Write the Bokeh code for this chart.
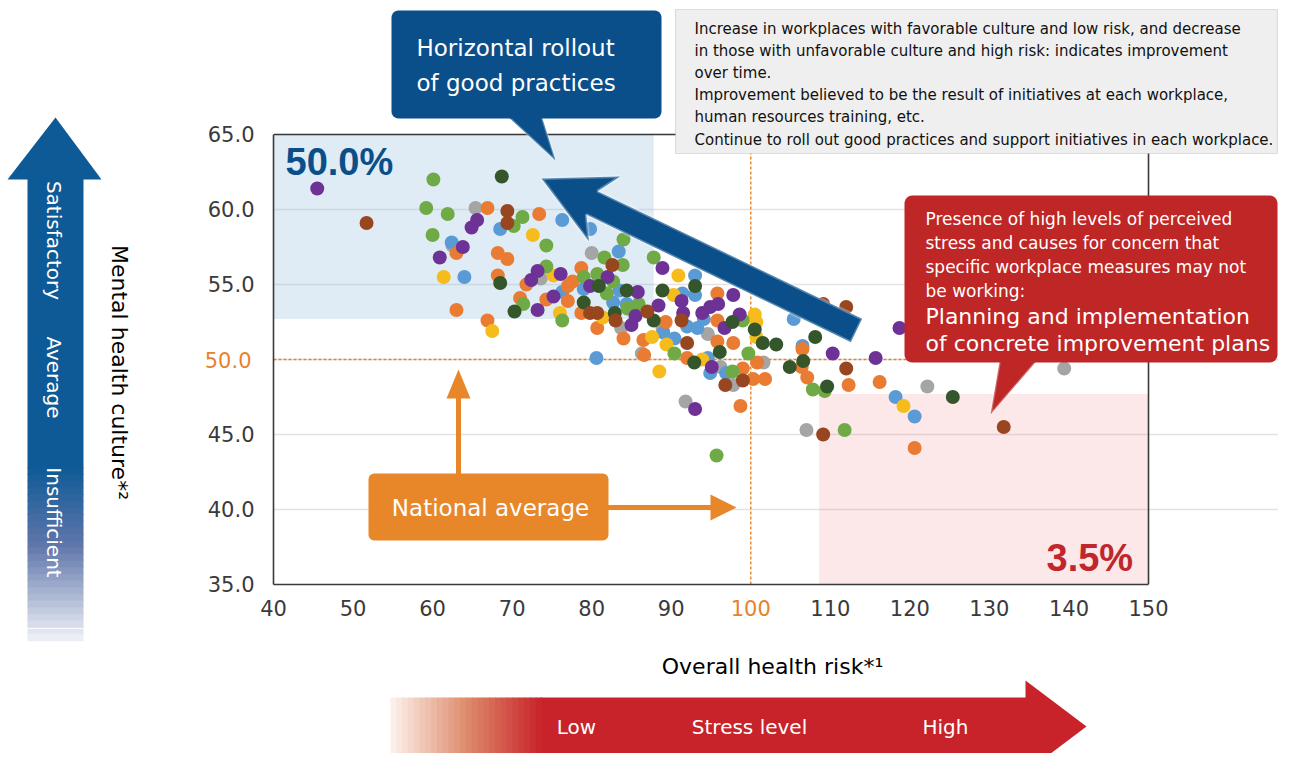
import math
from bokeh.plotting import figure
from bokeh.layouts import row, column
from bokeh.models import PolyAnnotation, Label, FixedTicker, PrintfTickFormatter, Range1d, LinearAxis
from bokeh.embed import file_html
from bokeh.resources import INLINE

FONT = "DejaVu Sans"
FONT_PCT = "Liberation Sans"

# ---------------- data ----------------
X_TICKS = [40, 50, 60, 70, 80, 90, 100, 110, 120, 130, 140, 150]
Y_TICKS = [35, 40, 45, 50, 55, 60, 65]
NATIONAL_AVG_X = 100
NATIONAL_AVG_Y = 50
GOOD_ZONE = dict(left=40, right=87.8, bottom=52.7, top=65)
BAD_ZONE = dict(left=108.6, right=150, bottom=35, top=47.7)
GOOD_SHARE = "50.0%"
BAD_SHARE = "3.5%"

gray_x = [65.4, 62.5, 80.0, 73.6, 83.7, 86.3, 88.9, 94.6, 96.2, 97.8, 91.8, 101.6, 107.0, 122.2, 139.4]
gray_y = [60.1, 57.6, 57.1, 55.4, 52.1, 50.4, 52.1, 51.7, 49.5, 48.3, 47.2, 49.8, 45.3, 48.2, 49.4]

blue_x = [62.4, 64.0, 68.5, 76.3, 79.8, 83.4, 93.0, 93.0, 91.4, 80.6, 76.3, 79.0, 82.7, 83.5, 92.0, 93.3,
          94.1, 90.4, 94.9, 96.9, 89.0, 94.6, 105.4, 106.5, 118.2, 120.6, 84.4]
blue_y = [57.8, 55.5, 58.7, 59.3, 58.7, 57.2, 55.6, 54.3, 54.4, 50.1, 54.5, 54.7, 53.8, 54.6, 52.2, 52.1,
          52.7, 51.4, 49.1, 49.1, 51.8, 50.1, 52.7, 50.9, 47.5, 46.2, 53.7]

orange_x = [66.9, 73.4, 68.2, 69.4, 68.2, 63.0, 63.0, 66.9, 78.7, 77.6, 77.0, 71.8, 71.0, 74.3, 77.0, 78.7,
            80.7, 84.0, 86.5, 86.6, 89.3, 92.0, 95.8, 95.8, 95.8, 97.8, 99.0, 100.3, 101.8, 98.7, 106.5,
            106.4, 107.1, 112.3, 116.2, 120.6, 100.8]
orange_y = [60.1, 59.7, 57.1, 56.7, 55.6, 57.1, 53.3, 52.6, 56.1, 55.2, 54.9, 55.0, 54.1, 54.0, 53.9, 53.1,
            52.1, 51.4, 51.3, 50.3, 52.5, 50.1, 54.4, 52.6, 51.2, 51.1, 49.4, 48.7, 48.7, 46.9, 50.7,
            49.5, 48.8, 48.3, 48.5, 44.1, 49.8]

yellow_x = [72.6, 61.4, 75.2, 76.0, 67.5, 81.4, 87.6, 89.4, 90.3, 90.9, 93.9, 88.5, 100.5, 100.7, 100.7, 119.2]
yellow_y = [58.3, 55.5, 55.6, 53.1, 51.9, 52.8, 51.5, 51.0, 54.3, 55.6, 50.0, 49.2, 53.0, 52.5, 51.5, 46.9]

green_x = [60.1, 59.2, 61.9, 60.0, 71.3, 70.2, 74.3, 74.3, 81.6, 83.9, 84.0, 87.8, 79.0, 80.7, 81.9, 82.7,
           76.3, 71.4, 85.9, 84.5, 90.4, 99.0, 99.7, 97.7, 107.8, 109.3, 111.8, 95.7]
green_y = [62.0, 60.1, 59.7, 58.3, 59.5, 58.9, 57.6, 56.2, 56.8, 56.3, 58.0, 56.8, 55.5, 55.7, 54.4, 55.2,
           52.6, 53.7, 53.7, 53.4, 50.4, 52.6, 50.4, 49.2, 48.0, 47.9, 45.3, 43.6]

purple_x = [45.5, 60.9, 63.8, 64.9, 65.6, 73.2, 72.4, 76.1, 75.2, 73.2, 79.8, 82.0, 85.8, 88.9, 88.4, 91.3,
            91.5, 93.9, 94.9, 95.9, 85.5, 85.0, 97.8, 98.6, 96.7, 95.1, 93.0, 110.3, 115.7, 118.7]
purple_y = [61.4, 56.8, 57.5, 58.8, 59.3, 55.9, 55.3, 55.7, 54.2, 53.3, 54.9, 55.5, 54.5, 56.1, 53.6, 53.9,
            53.1, 53.1, 53.5, 53.7, 52.9, 52.3, 54.3, 53.0, 52.1, 49.5, 46.7, 50.4, 50.1, 52.1]

dkgreen_x = [68.7, 68.5, 70.3, 79.0, 80.9, 84.4, 82.9, 87.8, 88.9, 93.0, 92.9, 96.1, 97.7, 100.5, 101.5,
             103.2, 108.1, 104.9, 106.6, 109.6, 125.4]
dkgreen_y = [62.2, 55.1, 53.2, 53.8, 54.9, 54.6, 53.1, 52.6, 54.6, 54.9, 49.8, 50.5, 52.5, 52.0, 51.1,
             51.0, 51.5, 49.5, 49.9, 48.2, 47.5]

brown_x = [51.7, 69.4, 69.4, 82.6, 79.8, 80.7, 83.0, 87.0, 91.3, 92.0, 96.8, 99.0, 109.1, 112.0, 112.0,
           109.1, 131.8]
brown_y = [59.1, 59.9, 59.1, 56.3, 53.1, 53.1, 52.6, 53.2, 52.6, 51.1, 48.3, 48.6, 53.7, 53.5, 49.4,
           45.0, 45.5]

SERIES = [
    (gray_x, gray_y, "#A5A5A5"),
    (blue_x, blue_y, "#5B9BD5"),
    (orange_x, orange_y, "#E97B32"),
    (yellow_x, yellow_y, "#F5BC1C"),
    (green_x, green_y, "#6FAA47"),
    (purple_x, purple_y, "#6E3196"),
    (dkgreen_x, dkgreen_y, "#35562A"),
    (brown_x, brown_y, "#98461F"),
]

# ---------------- layout (page pixels) ----------------
TOTAL_W, TOTAL_H = 1278, 753
LEFT_W = 200            # left panel (culture arrow)
AX_L = 73               # y-axis border of main plot
AX_B = 44               # x-axis border of main plot
FRAME_L, FRAME_T, FRAME_B = LEFT_W + AX_L, 0, 584
TOP_H = FRAME_B + AX_B  # height of the upper row
PXU_X = 875 / 110.0     # pixels per x unit
PXU_Y = 450 / 30.0      # pixels per y unit
MAIN_W = TOTAL_W - LEFT_W
X_END = 40 + (TOTAL_W - FRAME_L) / PXU_X
Y_END = 35 + (FRAME_B - FRAME_T) / PXU_Y
TICK_FS = 21
Y_LABEL_W = 47          # width of a "50.0" tick label
X_LABEL_H = 24          # height of an x tick label
ORANGE = "#E8822A"


def mx(px):
    return 40 + (px - FRAME_L) / PXU_X


def my(py):
    return 35 + (FRAME_B - py) / PXU_Y


def ident(v):
    return v


def blank(w, h, xr, yr):
    f = figure(width=w, height=h, x_range=Range1d(*xr), y_range=Range1d(*yr),
               output_backend="svg", toolbar_location=None,
               x_axis_location=None, y_axis_location=None,
               min_border_left=0, min_border_right=0, min_border_top=0, min_border_bottom=0)
    f.grid.visible = False
    f.outline_line_color = None
    f.background_fill_color = "white"
    f.border_fill_color = "white"
    f.frame_align = False
    return f


def P(fig, tx, ty, pts, fill, alpha=1.0, line=None, lw=0):
    fig.add_layout(PolyAnnotation(xs=[tx(a) for a, b in pts], ys=[ty(b) for a, b in pts],
                                  fill_color=fill, fill_alpha=alpha, line_color=line, line_width=lw))


def T(fig, tx, ty, px, py, text, size, color="#000000", align="left", bold=False, angle=0.0, font=FONT):
    fig.add_layout(Label(x=tx(px), y=ty(py), text=text, text_font=font, text_font_size=f"{size}px",
                         text_color=color, text_align=align, text_baseline="middle",
                         text_font_style="bold" if bold else "normal", angle=angle))


def rrect(x0, y0, x1, y1, r, n=6):
    pts = []
    for cx, cy, a0, a1 in [(x1 - r, y0 + r, -90, 0), (x1 - r, y1 - r, 0, 90),
                           (x0 + r, y1 - r, 90, 180), (x0 + r, y0 + r, 180, 270)]:
        for i in range(n + 1):
            a = math.radians(a0 + (a1 - a0) * i / n)
            pts.append((cx + r * math.cos(a), cy + r * math.sin(a)))
    return pts


def lerp_color(stops, t):
    for (t0, c0), (t1, c1) in zip(stops[:-1], stops[1:]):
        if t <= t1:
            f = 0 if t1 == t0 else (t - t0) / (t1 - t0)
            return "#%02x%02x%02x" % tuple(round(a + (b - a) * f) for a, b in zip(c0, c1))
    return "#%02x%02x%02x" % tuple(stops[-1][1])


def style_axis(ax, color):
    ax.major_tick_in = 0
    ax.major_tick_out = 0
    ax.minor_tick_in = 0
    ax.minor_tick_out = 0
    ax.major_label_text_font = FONT
    ax.major_label_text_font_size = f"{TICK_FS}px"
    ax.major_label_text_color = color


# ================= main plot =================
p = figure(width=MAIN_W, height=TOP_H, x_range=Range1d(40, X_END), y_range=Range1d(35, Y_END),
           output_backend="svg", toolbar_location=None,
           min_border_left=AX_L, min_border_right=0, min_border_top=0, min_border_bottom=AX_B)
p.background_fill_color = "white"
p.border_fill_color = "white"
p.outline_line_color = None
p.frame_align = False

for ax in (p.xaxis, p.yaxis):
    style_axis(ax, "#3a3a3a")
    ax.axis_line_color = "#3a3a3a"
    ax.axis_line_width = 1.6
p.xaxis.ticker = FixedTicker(ticks=X_TICKS)
p.yaxis.ticker = FixedTicker(ticks=Y_TICKS)
p.xaxis.bounds = (X_TICKS[0], X_TICKS[-1])
p.yaxis.bounds = (Y_TICKS[0], Y_TICKS[-1])
p.yaxis.formatter = PrintfTickFormatter(format="%.1f")
p.yaxis.major_label_standoff = 19
p.xaxis.major_label_standoff = 12
p.yaxis.major_label_overrides = {NATIONAL_AVG_Y: " "}
p.xaxis.major_label_overrides = {NATIONAL_AVG_X: " "}

# second axes carrying the orange national-average tick labels
y_avg_axis = LinearAxis(ticker=FixedTicker(ticks=[NATIONAL_AVG_Y]),
                        formatter=PrintfTickFormatter(format="%.1f"),
                        axis_line_color=None, major_label_standoff=-Y_LABEL_W)
style_axis(y_avg_axis, ORANGE)
p.add_layout(y_avg_axis, "left")
x_avg_axis = LinearAxis(ticker=FixedTicker(ticks=[NATIONAL_AVG_X]),
                        axis_line_color=None, major_label_standoff=-X_LABEL_H)
style_axis(x_avg_axis, ORANGE)
p.add_layout(x_avg_axis, "below")

p.xgrid.visible = False
p.ygrid.grid_line_color = "#E2E2E2"
p.ygrid.grid_line_width = 1.5
p.ygrid.bounds = (X_TICKS[0], X_TICKS[-1])

# zones
p.quad(left=[GOOD_ZONE["left"]], right=[GOOD_ZONE["right"]], bottom=[GOOD_ZONE["bottom"]],
       top=[GOOD_ZONE["top"]], fill_color="#9CC3E0", fill_alpha=0.32, line_color=None)
p.quad(left=[BAD_ZONE["left"]], right=[BAD_ZONE["right"]], bottom=[BAD_ZONE["bottom"]],
       top=[BAD_ZONE["top"]], fill_color="#EE8C8C", fill_alpha=0.2, line_color=None)

# frame top / right edges
p.segment(x0=[X_TICKS[0], X_TICKS[-1]], y0=[Y_TICKS[-1], Y_TICKS[0]],
          x1=[X_TICKS[-1], X_TICKS[-1]], y1=[Y_TICKS[-1], Y_TICKS[-1]],
          line_color="#3a3a3a", line_width=1.6)

# national average lines
p.segment(x0=[X_TICKS[0], NATIONAL_AVG_X], y0=[NATIONAL_AVG_Y, Y_TICKS[0]],
          x1=[X_TICKS[-1], NATIONAL_AVG_X], y1=[NATIONAL_AVG_Y, Y_TICKS[-1]],
          line_color=ORANGE, line_dash="3 2", line_width=1.4)

for xs, ys, c in SERIES:
    p.scatter(xs, ys, size=14, fill_color=c, line_color=None)

# percentages
T(p, mx, my, 285, 161, GOOD_SHARE, 38, color="#0B4F8A", bold=True, font=FONT_PCT)
T(p, mx, my, 1046, 557, BAD_SHARE, 38, color="#C0272D", bold=True, font=FONT_PCT)

# big blue arrow
tip = (541, 178)
tail = (856, 330)
L = math.hypot(tail[0] - tip[0], tail[1] - tip[1])
ux, uy = (tail[0] - tip[0]) / L, (tail[1] - tip[1]) / L
vx, vy = -uy, ux
shape = [(0, 0), (70, -36), (56, -13), (L, -13), (L, 13), (56, 13), (70, 36)]
P(p, mx, my, [(tip[0] + a * ux + b * vx, tip[1] + a * uy + b * vy) for a, b in shape],
  "#0B4F8A", line="white", lw=3)

# blue callout
P(p, mx, my, [(503, 112), (540, 112), (555, 160)], "#0B4F8A", line="white", lw=2.5)
P(p, mx, my, rrect(391, 10, 661, 118, 7), "#0B4F8A")
T(p, mx, my, 416, 47, "Horizontal rollout", 23, color="white")
T(p, mx, my, 416, 82, "of good practices", 23, color="white")

# gray note box
P(p, mx, my, [(675, 9), (1277, 9), (1277, 153), (675, 153)], "#EFEFEF", line="#A0A0A0", lw=1.2)
notes = ["Increase in workplaces with favorable culture and low risk, and decrease",
         "in those with unfavorable culture and high risk: indicates improvement",
         "over time.",
         "Improvement believed to be the result of initiatives at each workplace,",
         "human resources training, etc.",
         "Continue to roll out good practices and support initiatives in each workplace."]
for i, s in enumerate(notes):
    T(p, mx, my, 694, 28 + i * 22.2, s, 15, color="#111111")

# red callout
P(p, mx, my, [(1000, 356), (1040, 356), (990, 414)], "#BF2626", line="white", lw=2.5)
P(p, mx, my, rrect(904, 195, 1277, 362, 8), "#BF2626")
red_small = ["Presence of high levels of perceived", "stress and causes for concern that",
             "specific workplace measures may not", "be working:"]
for i, s in enumerate(red_small):
    T(p, mx, my, 925, 218 + i * 24, s, 17, color="white")
T(p, mx, my, 925, 316, "Planning and implementation", 22, color="white")
T(p, mx, my, 925, 343, "of concrete improvement plans", 22, color="white")

# national average box and arrows
OR = "#E8872A"
P(p, mx, my, [(455.5, 395), (460.5, 395), (460.5, 474), (455.5, 474)], OR)
P(p, mx, my, [(446, 398), (470, 398), (458, 369)], OR)
P(p, mx, my, [(607, 504.5), (712, 504.5), (712, 509.5), (607, 509.5)], OR)
P(p, mx, my, [(710, 494), (710, 520), (736, 507)], OR)
P(p, mx, my, rrect(368, 473, 608, 540, 6), OR)
T(p, mx, my, 490, 507, "National average", 23, color="white", align="center")

# ================= left panel =================
lp = blank(LEFT_W, TOP_H, (0, LEFT_W), (TOP_H, 0))
BL = (14, 90, 150)
GRAD_L = [(0, BL), (0.45, (95, 118, 170)), (1, (240, 242, 248))]
G0, G1 = 467, 640
NS = 26
P(lp, ident, ident, [(27, 178), (83, 178), (83, G0 + 1), (27, G0 + 1)], "#0E5A96")
P(lp, ident, ident, [(7, 179), (101, 179), (55, 117)], "#0E5A96")
for i in range(NS):
    t = (i + 0.5) / NS
    a = G0 + (G1 - G0) * i / NS
    b = G0 + (G1 - G0) * (i + 1) / NS + 0.8
    P(lp, ident, ident, [(27, a), (83, a), (83, b), (27, b)], lerp_color(GRAD_L, t))
T(lp, ident, ident, 53, 240, "Satisfactory", 20, color="white", align="center", angle=-math.pi / 2)
T(lp, ident, ident, 53, 377, "Average", 20, color="white", align="center", angle=-math.pi / 2)
T(lp, ident, ident, 53, 522, "Insufficient", 20, color="white", align="center", angle=-math.pi / 2)
T(lp, ident, ident, 119, 372, "Mental health culture*\u00b2", 22, align="center", angle=-math.pi / 2)

# ================= bottom panel =================
bp = blank(TOTAL_W, TOTAL_H - TOP_H, (0, TOTAL_W), (TOTAL_H, TOP_H))
for i in range(NS):
    t = (i + 0.5) / NS
    a = G0 + (G1 - G0) * i / NS
    b = G0 + (G1 - G0) * (i + 1) / NS + 0.8
    if b > TOP_H:
        P(bp, ident, ident, [(27, max(a, TOP_H)), (83, max(a, TOP_H)), (83, b), (27, b)],
          lerp_color(GRAD_L, t))
T(bp, ident, ident, 772, 666, "Overall health risk*\u00b9", 22, align="center")
RD = (200, 35, 42)
P(bp, ident, ident, [(540, 697), (1027, 697), (1027, 756), (540, 756)], "#C8232A")
P(bp, ident, ident, [(1025, 680), (1086, 726), (1025, 772)], "#C8232A")
R0, R1 = 390, 541
for i in range(NS):
    t = (i + 0.5) / NS
    a = R0 + (R1 - R0) * i / NS
    b = R0 + (R1 - R0) * (i + 1) / NS + 0.8
    c = lerp_color([(0, (253, 243, 238)), (0.5, (222, 140, 108)), (1, RD)], t)
    P(bp, ident, ident, [(a, 697), (b, 697), (b, 756), (a, 756)], c)
T(bp, ident, ident, 576, 726, "Low", 20, color="white", align="center")
T(bp, ident, ident, 749, 726, "Stress level", 20, color="white", align="center")
T(bp, ident, ident, 945, 726, "High", 20, color="white", align="center")

layout = column(row(lp, p, spacing=0), bp, spacing=0)
open("out.html", "w").write(file_html(layout, INLINE))
